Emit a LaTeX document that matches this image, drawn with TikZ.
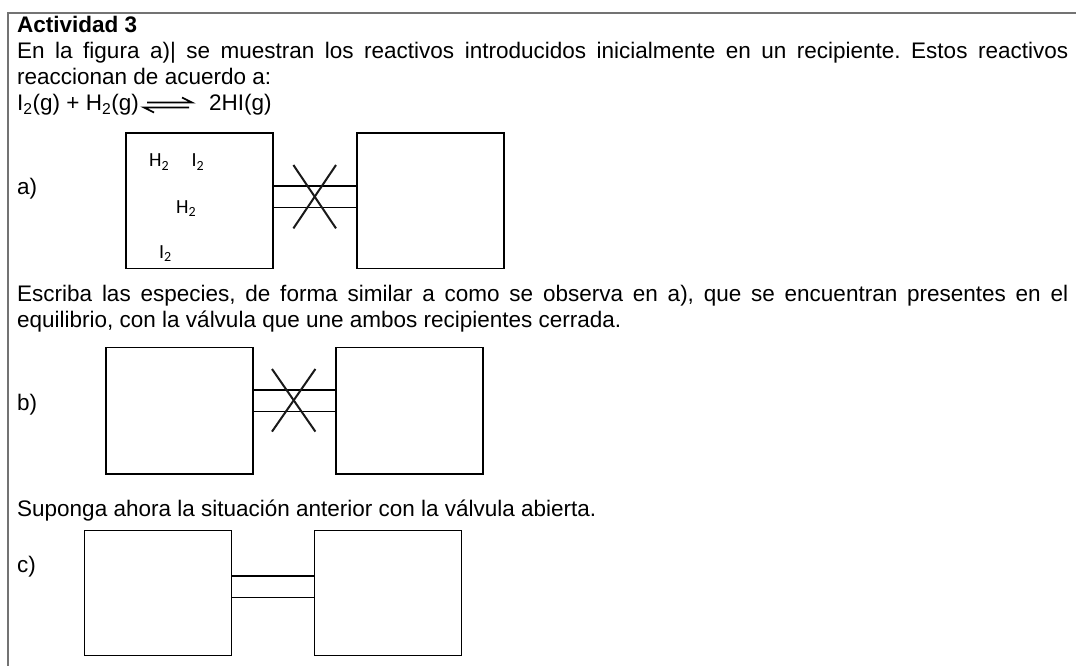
\documentclass[tikz,border=0pt]{standalone}
\usepackage{fontspec}
\setmainfont{Liberation Sans}
\newfontfamily\calibri{Carlito}
\frenchspacing
\tikzset{
  line/.style={anchor=base west, inner sep=0pt, font=\fontsize{22.5}{26}\selectfont},
  head/.style={line, font=\fontsize{22.5}{26}\selectfont\bfseries},
  mol/.style={anchor=base west, inner sep=0pt, font=\calibri\fontsize{20}{22}\selectfont},
  vessel/.style={draw, rectangle, inner sep=0pt, minimum width=147pt, line width=1.6pt},
  tube/.style={line width=1.3pt},
  valve/.style={line width=2pt, black!90},
  harp/.style={line width=1.7pt, line join=miter},
}
\begin{document}
\begin{tikzpicture}[x=1pt, y=-1pt]
\useasboundingbox (0,0) rectangle (1076,666);
\draw[line width=1.2pt, black!55] (1076,13) -- (8,13) -- (8,666);
\node[head] (T_0) at (17,33) {Actividad 3};
\node[line] (T_1) at (17,59) {\makebox[1051pt][s]{En la figura a)| se muestran los reactivos introducidos inicialmente en un recipiente. Estos reactivos}};
\node[line] (T_2) at (17,85) {reaccionan de acuerdo a:};
\node[line] (E_0) at (17,111) {I\textsubscript{2}(g) + H\textsubscript{2}(g)};
\coordinate (H_1) at (147,102.5);
\coordinate (H_2) at (192,102.5);
\draw[harp] (H_1) -- (H_2) -- ++(-10,-5);
\coordinate (H_3) at (189,107.5);
\coordinate (H_4) at (144,107.5);
\draw[harp] (H_3) -- (H_4) -- ++(10,5);
\node[line] (E_1) at (209,111) {2HI(g)};
\node[line] (L_a) at (17,194) {a)};
\node[vessel, minimum height=135pt] (B_a_1) at (199.7,200.8) {};
\node[vessel, minimum height=135pt] (B_a_2) at (430.7,200.8) {};
\draw[tube] (B_a_1.east |- 0,186) -- (B_a_2.west |- 0,186);
\draw[tube] (B_a_1.east |- 0,207.7) -- (B_a_2.west |- 0,207.7);
\coordinate (V_a) at (314.7,196.7);
\draw[valve] (V_a) ++(-21.3,-31.7) -- ++(42.6,63.4);
\draw[valve] (V_a) ++(21.3,-31.7) -- ++(-42.6,63.4);
\node[mol] (M_1) at (149,167) {H\textsubscript{2}};
\node[mol] (M_2) at (191.5,167) {I\textsubscript{2}};
\node[mol] (M_3) at (176,213) {H\textsubscript{2}};
\node[mol] (M_4) at (159,258) {I\textsubscript{2}};
\node[line] (T_3) at (17,301) {\makebox[1051pt][s]{Escriba las especies, de forma similar a como se observa en a), que se encuentran presentes en el}};
\node[line] (T_4) at (17,327) {equilibrio, con la válvula que une ambos recipientes cerrada.};
\node[line] (L_b) at (17,410) {b)};
\node[vessel, minimum height=126.7pt] (B_b_1) at (179.2,410.7) {};
\node[vessel, minimum height=126.7pt] (B_b_2) at (409.3,410.7) {};
\draw[tube] (B_b_1.east |- 0,390) -- (B_b_2.west |- 0,390);
\draw[tube] (B_b_1.east |- 0,411.3) -- (B_b_2.west |- 0,411.3);
\coordinate (V_b) at (293.7,400.3);
\draw[valve] (V_b) ++(-21.7,-31.3) -- ++(43.4,62.6);
\draw[valve] (V_b) ++(21.7,-31.3) -- ++(-43.4,62.6);
\node[line] (T_5) at (17,516) {Suponga ahora la situación anterior con la válvula abierta.};
\node[line] (L_c) at (17,572) {c)};
\node[vessel, minimum height=125pt] (B_c_1) at (157.8,592.8) {};
\node[vessel, minimum height=125pt] (B_c_2) at (387.8,592.8) {};
\draw[tube] (B_c_1.east |- 0,576) -- (B_c_2.west |- 0,576);
\draw[tube] (B_c_1.east |- 0,597.3) -- (B_c_2.west |- 0,597.3);
\end{tikzpicture}
\end{document}
